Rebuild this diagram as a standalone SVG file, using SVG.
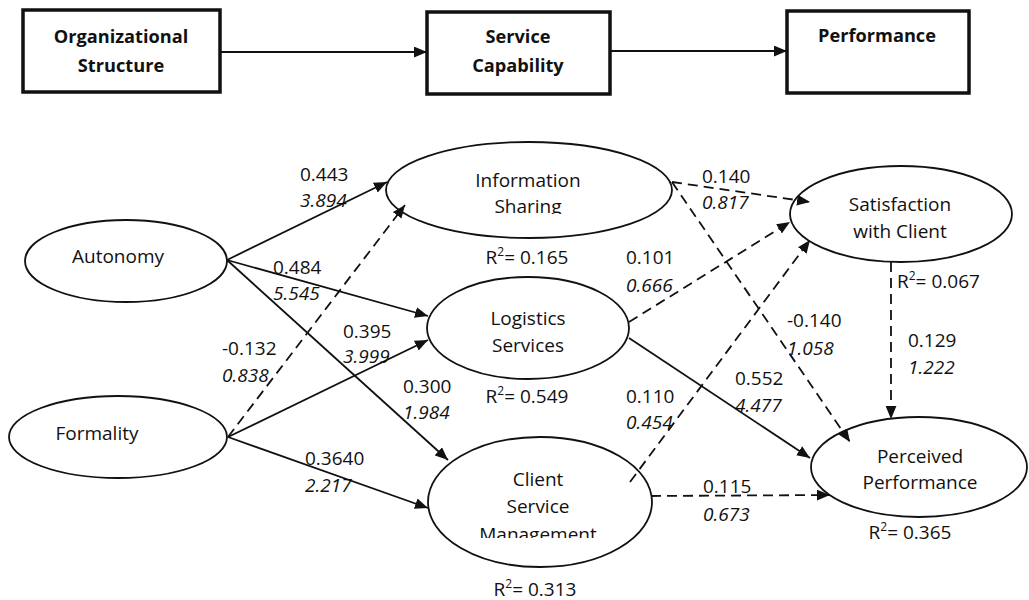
<svg xmlns="http://www.w3.org/2000/svg" width="1029" height="600" viewBox="0 0 1029 600">
<style>
text{font-family:"Open Sans","Liberation Sans",sans-serif;font-size:19px;fill:#111}
.b{font-weight:bold;font-size:18.2px}
.i{font-style:italic}
.box{fill:#fff;stroke:#111;stroke-width:3.5}
.el{fill:#fff;stroke:#111;stroke-width:1.8}
.c{fill:none;stroke:#111;stroke-width:1.8;marker-end:url(#arr)}
.d{stroke-dasharray:10 6}
.mid{text-anchor:middle}
</style>
<defs>
<marker id="arr" viewBox="0 0 12 10" refX="12" refY="5" markerWidth="13" markerHeight="11" markerUnits="userSpaceOnUse" orient="auto">
<path d="M0,0 L12,5 L0,10 z" fill="#111"/>
</marker>
<clipPath id="clipIS"><rect x="380" y="140" width="300" height="74"/></clipPath>
<clipPath id="clipCSM"><rect x="420" y="430" width="240" height="108"/></clipPath>
</defs>
<rect width="1029" height="600" fill="#fff"/>

<g id="org-structure">
<rect class="box" x="23" y="10" width="197" height="82"/>
<text class="b mid" x="121" y="43">Organizational</text>
<text class="b mid" x="121" y="72">Structure</text>
</g>
<g id="service-capability">
<rect class="box" x="427" y="12" width="183" height="82"/>
<text class="b mid" x="518" y="43">Service</text>
<text class="b mid" x="518" y="72">Capability</text>
</g>
<g id="performance">
<rect class="box" x="787" y="11" width="182" height="82"/>
<text class="b mid" x="877" y="42">Performance</text>
</g>

<g id="autonomy">
<ellipse class="el" cx="126" cy="261" rx="101" ry="41"/>
<text class="mid" x="118" y="263">Autonomy</text>
</g>
<g id="formality">
<ellipse class="el" cx="118" cy="437" rx="109" ry="41"/>
<text class="mid" x="97" y="440">Formality</text>
</g>
<g id="information-sharing">
<ellipse class="el" cx="529" cy="190" rx="143" ry="48"/>
<g clip-path="url(#clipIS)">
<text class="mid" x="528" y="187">Information</text>
<text class="mid" x="528" y="213">Sharing</text>
</g>
<text class="mid" x="527" y="264">R<tspan font-size="12" dy="-8">2</tspan><tspan dy="8">= 0.165</tspan></text>
</g>
<g id="logistics-services">
<ellipse class="el" cx="528" cy="328" rx="101" ry="51"/>
<text class="mid" x="528" y="325">Logistics</text>
<text class="mid" x="528" y="352">Services</text>
<text class="mid" x="527" y="403">R<tspan font-size="12" dy="-8">2</tspan><tspan dy="8">= 0.549</tspan></text>
</g>
<g id="client-service-management">
<ellipse class="el" cx="540" cy="502" rx="112" ry="65"/>
<text class="mid" x="538" y="486">Client</text>
<text class="mid" x="538" y="513">Service</text>
<g clip-path="url(#clipCSM)">
<text class="mid" x="538" y="541">Management</text>
</g>
<text class="mid" x="535" y="596">R<tspan font-size="12" dy="-8">2</tspan><tspan dy="8">= 0.313</tspan></text>
</g>
<g id="satisfaction-with-client">
<ellipse class="el" cx="901" cy="214" rx="111" ry="48"/>
<text class="mid" x="900" y="211">Satisfaction</text>
<text class="mid" x="900" y="238">with Client</text>
<text x="897" y="288">R<tspan font-size="12" dy="-8">2</tspan><tspan dy="8">= 0.067</tspan></text>
</g>
<g id="perceived-performance">
<ellipse class="el" cx="919" cy="467" rx="108" ry="50"/>
<text class="mid" x="920" y="463">Perceived</text>
<text class="mid" x="920" y="489">Performance</text>
<text class="mid" x="910" y="539">R<tspan font-size="12" dy="-8">2</tspan><tspan dy="8">= 0.365</tspan></text>
</g>

<g id="connectors">
<line class="c" x1="220" y1="52" x2="427" y2="52"/>
<line class="c" x1="610" y1="51" x2="787" y2="51"/>
<line class="c" x1="227" y1="260" x2="387" y2="182"/>
<line class="c" x1="227" y1="260" x2="428" y2="316"/>
<line class="c" x1="227" y1="260" x2="448" y2="460"/>
<line class="c d" x1="228" y1="437" x2="405" y2="205"/>
<line class="c" x1="228" y1="437" x2="428" y2="340"/>
<line class="c" x1="228" y1="437" x2="428" y2="508"/>
<line class="c d" x1="672" y1="182" x2="810" y2="202"/>
<line class="c d" x1="672" y1="182" x2="850" y2="442"/>
<line class="c d" x1="629" y1="322" x2="790" y2="222"/>
<line class="c" x1="629" y1="338" x2="810" y2="458"/>
<line class="c d" x1="630" y1="482" x2="810" y2="240"/>
<line class="c d" x1="651" y1="496" x2="830" y2="495"/>
<line class="c d" x1="891" y1="262" x2="891" y2="419"/>
</g>

<g id="labels">
<text x="300" y="181">0.443</text>
<text class="i" x="300" y="207">3.894</text>
<text x="273" y="274">0.484</text>
<text class="i" x="273" y="300">5.545</text>
<text x="343" y="338">0.395</text>
<text class="i" x="343" y="363">3.999</text>
<text x="222" y="355">-0.132</text>
<text class="i" x="222" y="382">0.838</text>
<text x="305" y="465">0.3640</text>
<text class="i" x="305" y="492">2.217</text>
<text x="403" y="393">0.300</text>
<text class="i" x="403" y="419">1.984</text>
<text x="626" y="264">0.101</text>
<text class="i" x="626" y="292">0.666</text>
<text x="626" y="403">0.110</text>
<text class="i" x="626" y="429">0.454</text>
<text x="702" y="183">0.140</text>
<text class="i" x="702" y="209">0.817</text>
<text x="787" y="327">-0.140</text>
<text class="i" x="787" y="355">1.058</text>
<text x="735" y="385">0.552</text>
<text class="i" x="735" y="412">4.477</text>
<text x="908" y="347">0.129</text>
<text class="i" x="908" y="374">1.222</text>
<text x="703" y="493">0.115</text>
<text class="i" x="703" y="521">0.673</text>
</g>
</svg>
